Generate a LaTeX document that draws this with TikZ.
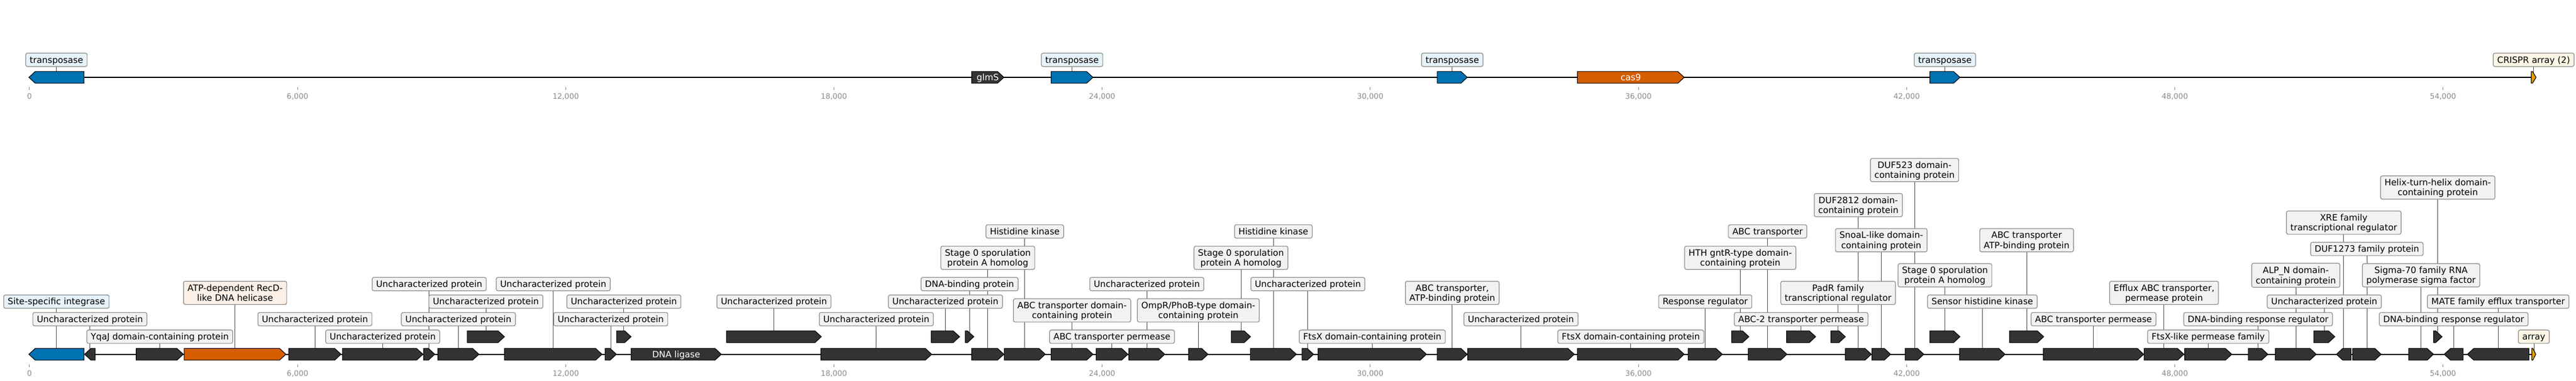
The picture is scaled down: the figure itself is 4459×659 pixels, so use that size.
\documentclass[tikz,border=0pt]{standalone}
\usepackage{fontspec}
\setmainfont{DejaVu Sans}
\pgfdeclarelayer{bg}
\pgfsetlayers{bg,main}
\definecolor{gdark}{HTML}{333333}
\definecolor{gblue}{HTML}{0072B2}
\definecolor{gorange}{HTML}{D55E00}
\definecolor{gyellow}{HTML}{E69F00}
\definecolor{bgrey}{HTML}{F2F2F2}
\definecolor{bblue}{HTML}{E6F3FA}
\definecolor{borange}{HTML}{FBEFE6}
\definecolor{byellow}{HTML}{FDF6E6}
\definecolor{bedge}{HTML}{8C8C8C}
\definecolor{conncol}{HTML}{4D4D4D}
\definecolor{tickcol}{HTML}{8A8A8A}
\newcommand\st{\rule[-3.2pt]{0pt}{17.2pt}}
\tikzset{
 genestyle/.style={draw=black, line width=1.1pt, fill=gdark, line join=miter},
 lbl/.style={draw=bedge, line width=1.2pt, fill=bgrey, rounded corners=3pt, inner xsep=6.9pt, inner ysep=2.95pt, align=center, font=\fontsize{15.2}{17.2}\selectfont, text=black},
 conn/.style={draw=conncol, line width=1pt},
 intext/.style={text=white, font=\fontsize{15.2}{17.2}\selectfont, inner sep=0pt, anchor=base, yshift=-5.5pt},
 ticklab/.style={text=tickcol, font=\fontsize{13}{15}\selectfont, anchor=base, inner sep=0pt},
 tickmark/.style={draw=tickcol, line width=1pt},
 backbone/.style={draw=black, line width=2.4pt},
}
\newcommand\gene[6]{%
  \pgfmathsetmacro\ga{#2}%
  \pgfmathsetmacro\gb{#3}%
  \pgfmathsetmacro\gt{min(11,0.75*(#3-#2))}%
  \pgfmathsetmacro\gy{#4}%
  \coordinate (#1) at ({(\ga+\gb)/2},\gy);%
  \if#6f%
    \draw[genestyle,#5] (\ga,\gy-10.15) -- (\gb-\gt,\gy-10.15) -- (\gb,\gy) -- (\gb-\gt,\gy+10.15) -- (\ga,\gy+10.15) -- cycle;%
  \else
    \draw[genestyle,#5] (\gb,\gy-10.15) -- (\ga+\gt,\gy-10.15) -- (\ga,\gy) -- (\ga+\gt,\gy+10.15) -- (\gb,\gy+10.15) -- cycle;%
  \fi
}
\newcommand\lab[5]{%
  \node[lbl,#3] (#5) at (#1 |- 0,#2) {#4};
  \begin{pgfonlayer}{bg}\draw[conn] (#5.center) -- (#1);\end{pgfonlayer}
}
\newcommand\UP{\st Uncharacterized protein}
\begin{document}
\begin{tikzpicture}[x=1pt,y=-1pt]
\begin{pgfonlayer}{bg}
\fill[white] (0,0) rectangle (4459,659);
\end{pgfonlayer}
\useasboundingbox (0,0) rectangle (4459,659);

% ---------- axes ----------
\coordinate (ts) at (50.9,134);
\coordinate (te) at (4390,134);
\coordinate (bs) at (50.9,613.7);
\coordinate (be) at (4389.3,613.7);
\begin{pgfonlayer}{bg}
\draw[backbone] (ts) -- (te);
\draw[backbone] (bs) -- (be);
\end{pgfonlayer}
\foreach \k/\t in {1/6,2/12,3/18,4/24,5/30,6/36,7/42,8/48,9/54}{
  \pgfmathsetmacro\tx{50.9+464.2*\k}
  \draw[tickmark] (\tx,150.8) -- (\tx,155.9);
  \draw[tickmark] (\tx,630.5) -- (\tx,635.6);
  \node[ticklab] (tt\k) at (\tx,171.8) {\t,000};
  \node[ticklab] (bt\k) at (\tx,651.5) {\t,000};
}
\draw[tickmark] (50.9,150.8) -- (50.9,155.9);
\draw[tickmark] (50.9,630.5) -- (50.9,635.6);
\node[ticklab] (tt0) at (50.9,171.8) {0};
\node[ticklab] (bt0) at (50.9,651.5) {0};

% ---------- top track ----------
\gene{t1}{50.0}{145.4}{134}{fill=gblue}{r}
\lab{t1}{103.6}{fill=bblue}{\st transposase}{tl1}
\gene{tglms}{1682}{1737.7}{134}{}{f}
\node[intext] (tglmslab) at (tglms) {glmS};
\gene{t2}{1819.5}{1891.9}{134}{fill=gblue}{f}
\lab{t2}{103.6}{fill=bblue}{\st transposase}{tl2}
\gene{t3}{2487.8}{2539.8}{134}{fill=gblue}{f}
\lab{t3}{103.6}{fill=bblue}{\st transposase}{tl3}
\gene{tcas}{2730.5}{2915.3}{134}{fill=gorange}{f}
\node[intext] (tcaslab) at (tcas) {cas9};
\gene{t4}{3340.6}{3392.6}{134}{fill=gblue}{f}
\lab{t4}{103.6}{fill=bblue}{\st transposase}{tl4}
\gene{tarr}{4381.5}{4389.8}{134}{fill=gyellow}{f}
\lab{tarr}{103.6}{fill=byellow}{\st CRISPR array (2)}{tl5}

% ---------- bottom track ----------
\gene{b1}{50.0}{145.4}{613.7}{fill=gblue}{r}
\lab{b1}{522.5}{fill=bblue}{\st Site-specific integrase}{l1}
\gene{b2}{146.4}{164.8}{613.7}{}{r}
\lab{b2}{552.9}{}{\UP}{l2}
\gene{b3}{235.7}{317.3}{613.7}{}{f}
\lab{b3}{583.3}{}{\st YqaJ domain-containing protein}{l3}
\gene{b4}{318.9}{494.9}{613.7}{fill=gorange}{f}
\lab{b4}{507.3}{fill=borange}{\st ATP-dependent RecD-\\\st like DNA helicase}{l4}
\gene{b5}{500}{590.3}{613.7}{}{f}
\lab{b5}{552.9}{}{\UP}{l5}
\gene{b6}{592.8}{732.1}{613.7}{}{f}
\lab{b6}{583.3}{}{\UP}{l6}
\gene{b7}{733.2}{752.6}{613.7}{}{f}
\lab{b7}{492.1}{}{\UP}{l7}
\gene{b8}{758}{829}{613.7}{}{f}
\lab{b8}{552.9}{}{\UP}{l8}
\gene{e1}{808.9}{873.2}{583.3}{}{f}
\lab{e1}{522.5}{}{\UP}{l9}
\gene{b9}{873.2}{1042}{613.7}{}{f}
\lab{b9}{492.1}{}{\UP}{l10}
\gene{b10}{1047.3}{1067}{613.7}{}{f}
\lab{b10}{552.9}{}{\UP}{l11}
\gene{e2}{1067.4}{1092.4}{583.3}{}{f}
\lab{e2}{522.5}{}{\UP}{l12}
\gene{b11}{1092.4}{1248.6}{613.7}{}{f}
\node[intext] (b11lab) at (b11) {DNA ligase};
\gene{e3}{1257.6}{1421.7}{583.3}{}{f}
\lab{e3}{522.5}{}{\UP}{l13}
\gene{b12}{1421}{1612.7}{613.7}{}{f}
\lab{b12}{552.9}{}{\UP}{l14}
\gene{e4}{1612}{1661}{583.3}{}{f}
\lab{e4}{522.5}{}{\UP}{l15}
\gene{e5}{1670.8}{1685.7}{583.3}{}{f}
\lab{e5}{492.1}{}{\st DNA-binding protein}{l16}
\gene{b13}{1682}{1737.7}{613.7}{}{f}
\lab{b13}{446.5}{}{\st Stage 0 sporulation\\\st protein A homolog}{l17}
\gene{b14}{1738.4}{1809.4}{613.7}{}{f}
\lab{b14}{400.9}{}{\st Histidine kinase}{l18}
\gene{b15}{1819.5}{1891.9}{613.7}{}{f}
\lab{b15}{537.7}{}{\st ABC transporter domain-\\\st containing protein}{l19}
\gene{b16}{1897.3}{1952.4}{613.7}{}{f}
\lab{b16}{583.3}{}{\st ABC transporter permease}{l20}
\gene{b17}{1954}{2016.2}{613.7}{}{f}
\lab{b17}{492.1}{}{\UP}{l21}
\gene{b18}{2057.5}{2091}{613.7}{}{f}
\lab{b18}{537.7}{}{\st OmpR/PhoB-type domain-\\\st containing protein}{l22}
\gene{e6}{2131.5}{2164.6}{583.3}{}{f}
\lab{e6}{446.5}{}{\st Stage 0 sporulation\\\st protein A homolog}{l23}
\gene{b19}{2164.3}{2244}{613.7}{}{f}
\lab{b19}{400.9}{}{\st Histidine kinase}{l24}
\gene{b20}{2253.9}{2273.8}{613.7}{}{f}
\lab{b20}{492.1}{}{\UP}{l25}
\gene{b21}{2281.6}{2469.2}{613.7}{}{f}
\lab{b21}{583.3}{}{\st FtsX domain-containing protein}{l26}
\gene{b22}{2487.8}{2539.8}{613.7}{}{f}
\lab{b22}{507.3}{}{\st ABC transporter,\\\st ATP-binding protein}{l27}
\gene{b23}{2540.5}{2725}{613.7}{}{f}
\lab{b23}{552.9}{}{\UP}{l28}
\gene{b24}{2730.5}{2915.3}{613.7}{}{f}
\lab{b24}{583.3}{}{\st FtsX domain-containing protein}{l29}
\gene{b25}{2922.1}{2981.3}{613.7}{}{f}
\lab{b25}{522.5}{}{\st Response regulator}{l30}
\gene{e7}{2997.5}{3027.2}{583.3}{}{f}
\lab{e7}{446.5}{}{\st HTH gntR-type domain-\\\st containing protein}{l31}
\gene{b26}{3026.2}{3093.1}{613.7}{}{f}
\lab{b26}{400.9}{}{\st ABC transporter}{l32}
\gene{e8}{3092.5}{3142.8}{583.3}{}{f}
\lab{e8}{552.9}{}{\st ABC-2 transporter permease}{l33}
\gene{e9}{3169.2}{3194.2}{583.3}{}{f}
\lab{e9}{507.3}{}{\st PadR family\\\st transcriptional regulator}{l34}
\gene{b27}{3194.2}{3239.2}{613.7}{}{f}
\lab{b27}{355.3}{}{\st DUF2812 domain-\\\st containing protein}{l35}
\gene{b28}{3240.2}{3272.6}{613.7}{}{f}
\lab{b28}{416.1}{}{\st SnoaL-like domain-\\\st containing protein}{l36}
\gene{b29}{3298}{3330.1}{613.7}{}{f}
\lab{b29}{294.5}{}{\st DUF523 domain-\\\st containing protein}{l37}
\gene{e10}{3340.6}{3392.6}{583.3}{}{f}
\lab{e10}{476.9}{}{\st Stage 0 sporulation\\\st protein A homolog}{l38}
\gene{b30}{3392}{3470.7}{613.7}{}{f}
\lab{b30}{522.5}{}{\st Sensor histidine kinase}{l39}
\gene{e11}{3478.5}{3537.6}{583.3}{}{f}
\lab{e11}{416.1}{}{\st ABC transporter\\\st ATP-binding protein}{l40}
\gene{b31}{3537}{3710.7}{613.7}{}{f}
\lab{b31}{552.9}{}{\st ABC transporter permease}{l41}
\gene{b32}{3711.4}{3780.3}{613.7}{}{f}
\lab{b32}{507.3}{}{\st Efflux ABC transporter,\\\st permease protein}{l42}
\gene{b33}{3781.7}{3863.1}{613.7}{}{f}
\lab{b33}{583.3}{}{\st FtsX-like permease family}{l43}
\gene{b34}{3891.8}{3925.6}{613.7}{}{f}
\lab{b34}{552.9}{}{\st DNA-binding response regulator}{l44}
\gene{b35}{3938.5}{4009.4}{613.7}{}{f}
\lab{b35}{476.9}{}{\st ALP\_N domain-\\\st containing protein}{l45}
\gene{e12}{4005}{4041.5}{583.3}{}{f}
\lab{e12}{522.5}{}{\UP}{l46}
\gene{b36}{4044.2}{4069.6}{613.7}{}{r}
\lab{b36}{385.7}{}{\st XRE family\\\st transcriptional regulator}{l47}
\gene{b37}{4072.3}{4121.7}{613.7}{}{f}
\lab{b37}{431.3}{}{\st DUF1273 family protein}{l48}
\gene{b38}{4169.3}{4212.3}{613.7}{}{f}
\lab{b38}{476.9}{}{\st Sigma-70 family RNA\\\st polymerase sigma factor}{l49}
\gene{e13}{4212.3}{4227.1}{583.3}{}{f}
\lab{e13}{324.9}{}{\st Helix-turn-helix domain-\\\st containing protein}{l50}
\gene{b39}{4230.8}{4263.6}{613.7}{}{r}
\lab{b39}{552.9}{}{\st DNA-binding response regulator}{l51}
\gene{b40}{4271}{4377.5}{613.7}{}{r}
\lab{b40}{522.5}{}{\st MATE family efflux transporter}{l52}
\gene{barr}{4382.6}{4389.3}{613.7}{fill=gyellow}{f}
\lab{barr}{583.3}{fill=byellow}{\st array}{l53}
\end{tikzpicture}
\end{document}
